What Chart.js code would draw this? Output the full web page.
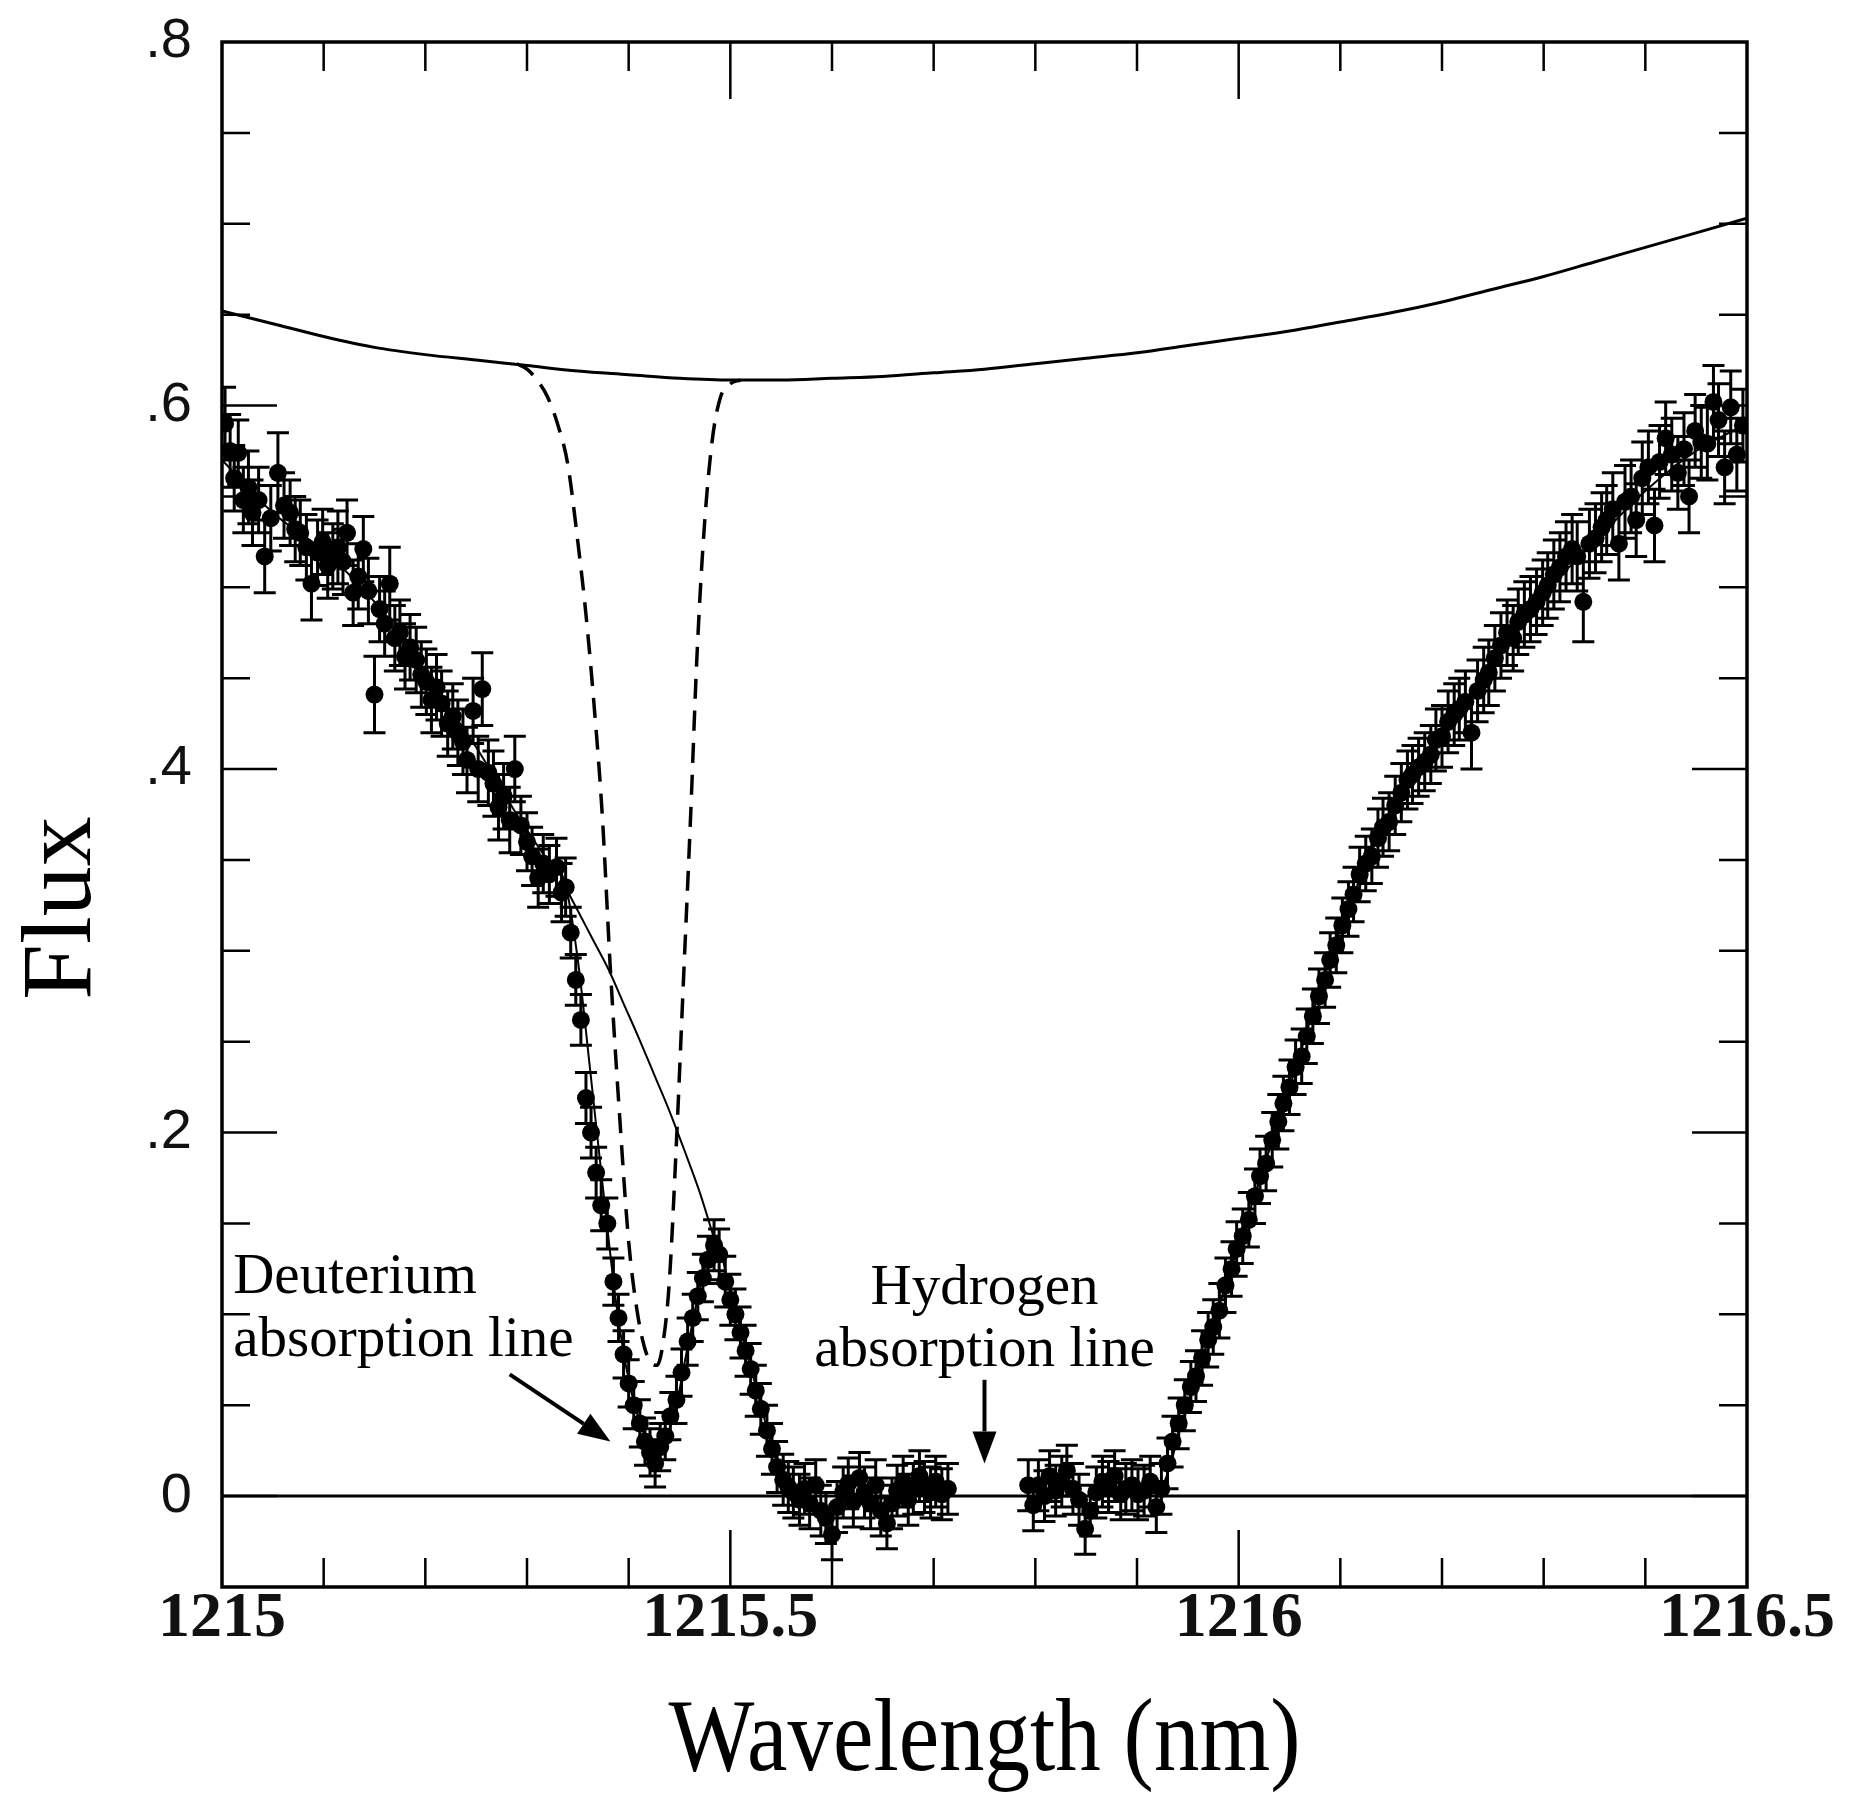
<!DOCTYPE html>
<html>
<head>
<meta charset="utf-8">
<title>Deuterium and hydrogen Lyman-alpha absorption</title>
<script src="https://cdn.jsdelivr.net/npm/chart.js@4.4.1/dist/chart.umd.min.js"></script>
<style>
	html, body { margin: 0; padding: 0; background: #fff; }
	canvas { display: block; }
</style>
</head>
<body>
<canvas id="fluxChart" width="1850" height="1797"></canvas>
<script>
// observed spectrum: wavelength (nm), flux and 1-sigma error
const wavelength = [
	1215.003, 1215.008, 1215.012, 1215.016, 1215.021, 1215.026, 1215.030, 1215.036, 1215.042, 1215.048,
	1215.055, 1215.061, 1215.067, 1215.072, 1215.077, 1215.083, 1215.088, 1215.094, 1215.099, 1215.104,
	1215.109, 1215.114, 1215.119, 1215.123, 1215.129, 1215.134, 1215.139, 1215.144, 1215.150, 1215.155,
	1215.160, 1215.165, 1215.170, 1215.175, 1215.180, 1215.185, 1215.191, 1215.196, 1215.201, 1215.206,
	1215.211, 1215.216, 1215.222, 1215.227, 1215.232, 1215.237, 1215.241, 1215.247, 1215.252, 1215.256,
	1215.262, 1215.267, 1215.272, 1215.277, 1215.283, 1215.288, 1215.294, 1215.300, 1215.305, 1215.311,
	1215.316, 1215.322, 1215.329, 1215.334, 1215.338, 1215.343, 1215.348, 1215.353, 1215.358, 1215.363,
	1215.368, 1215.373, 1215.379, 1215.385, 1215.390, 1215.395, 1215.400, 1215.405, 1215.411, 1215.416,
	1215.421, 1215.426, 1215.431, 1215.436, 1215.441, 1215.447, 1215.452, 1215.458, 1215.463, 1215.468,
	1215.473, 1215.478, 1215.484, 1215.489, 1215.495, 1215.500, 1215.505, 1215.510, 1215.515, 1215.520,
	1215.525, 1215.530, 1215.536, 1215.541, 1215.546, 1215.552, 1215.557, 1215.562, 1215.568, 1215.573,
	1215.578, 1215.584, 1215.589, 1215.594, 1215.600, 1215.605, 1215.611, 1215.616, 1215.621, 1215.627,
	1215.632, 1215.638, 1215.643, 1215.648, 1215.654, 1215.659, 1215.664, 1215.670, 1215.675, 1215.680,
	1215.686, 1215.691, 1215.697, 1215.702, 1215.708, 1215.714,
	1215.793, 1215.798, 1215.803, 1215.809, 1215.814, 1215.820, 1215.826, 1215.831, 1215.837, 1215.843,
	1215.849, 1215.854, 1215.860, 1215.866, 1215.872, 1215.878, 1215.884, 1215.889, 1215.895, 1215.901,
	1215.907, 1215.913, 1215.919, 1215.924, 1215.930, 1215.935, 1215.941, 1215.947, 1215.953, 1215.958,
	1215.964, 1215.970, 1215.975, 1215.981, 1215.987, 1215.993, 1215.998, 1216.004, 1216.010, 1216.016,
	1216.021, 1216.027, 1216.033, 1216.039, 1216.044, 1216.050, 1216.056, 1216.062, 1216.067, 1216.073,
	1216.079, 1216.085, 1216.090, 1216.096, 1216.102, 1216.108, 1216.113, 1216.119, 1216.125, 1216.131,
	1216.137, 1216.142, 1216.148, 1216.154, 1216.160, 1216.166, 1216.171, 1216.177, 1216.183, 1216.189,
	1216.194, 1216.200, 1216.206, 1216.212, 1216.217, 1216.223, 1216.229, 1216.235, 1216.241, 1216.246,
	1216.252, 1216.258, 1216.264, 1216.270, 1216.275, 1216.281, 1216.287, 1216.293, 1216.299, 1216.304,
	1216.310, 1216.316, 1216.322, 1216.328, 1216.333, 1216.339, 1216.345, 1216.351, 1216.357, 1216.362,
	1216.368, 1216.374, 1216.380, 1216.386, 1216.391, 1216.397, 1216.403, 1216.409, 1216.414, 1216.420,
	1216.426, 1216.432, 1216.438, 1216.443, 1216.449, 1216.455, 1216.461, 1216.467, 1216.472, 1216.478,
	1216.484, 1216.490, 1216.496
];
const flux = [
	0.590, 0.575, 0.560, 0.574, 0.548, 0.555, 0.541, 0.548, 0.517, 0.538,
	0.563, 0.545, 0.541, 0.532, 0.530, 0.522, 0.502, 0.519, 0.525, 0.512,
	0.517, 0.522, 0.514, 0.530, 0.497, 0.506, 0.521, 0.498, 0.441, 0.488,
	0.480, 0.502, 0.472, 0.475, 0.462, 0.467, 0.460, 0.452, 0.448, 0.438,
	0.445, 0.436, 0.425, 0.429, 0.420, 0.415, 0.405, 0.432, 0.400, 0.444,
	0.398, 0.392, 0.379, 0.385, 0.372, 0.400, 0.369, 0.360, 0.352, 0.340,
	0.348, 0.342, 0.346, 0.332, 0.335, 0.310, 0.284, 0.262, 0.219, 0.200,
	0.178, 0.160, 0.150, 0.118, 0.098, 0.078, 0.062, 0.050, 0.040, 0.030,
	0.024, 0.018, 0.027, 0.033, 0.044, 0.053, 0.068, 0.085, 0.098, 0.110,
	0.120, 0.130, 0.138, 0.133, 0.118, 0.108, 0.100, 0.090, 0.080, 0.070,
	0.058, 0.048, 0.036, 0.026, 0.016, 0.009, 0.005, 0.002, -0.002, 0.004,
	-0.004, 0.006, -0.008, -0.012, -0.021, -0.006, 0.002, 0.007, -0.003, 0.010,
	0.002, -0.004, 0.006, -0.008, -0.015, -0.004, 0.003, 0.008, -0.002, 0.004,
	0.011, 0.005, 0.002, 0.008, 0.001, 0.004,
	0.006, -0.005, 0.006, 0.000, 0.011, 0.003, 0.008, 0.014, 0.004, -0.002,
	-0.018, -0.008, 0.002, 0.008, 0.005, 0.011, 0.001, 0.004, 0.006, 0.001,
	0.003, 0.008, -0.006, 0.004, 0.018, 0.030, 0.040, 0.050, 0.060, 0.066,
	0.076, 0.086, 0.093, 0.102, 0.116, 0.125, 0.136, 0.143, 0.152, 0.165,
	0.176, 0.183, 0.196, 0.206, 0.216, 0.225, 0.236, 0.242, 0.253, 0.264,
	0.275, 0.284, 0.295, 0.303, 0.314, 0.323, 0.331, 0.342, 0.348, 0.352,
	0.362, 0.368, 0.371, 0.380, 0.387, 0.394, 0.397, 0.401, 0.404, 0.408,
	0.416, 0.418, 0.426, 0.430, 0.433, 0.437, 0.420, 0.443, 0.449, 0.453,
	0.461, 0.468, 0.475, 0.472, 0.481, 0.485, 0.488, 0.492, 0.497, 0.501,
	0.507, 0.511, 0.517, 0.521, 0.517, 0.492, 0.524, 0.527, 0.533, 0.537,
	0.543, 0.524, 0.547, 0.550, 0.537, 0.560, 0.566, 0.534, 0.569, 0.582,
	0.573, 0.563, 0.576, 0.550, 0.586, 0.580, 0.579, 0.602, 0.592, 0.566,
	0.599, 0.573, 0.589
];
const fluxErr = [
	0.020, 0.020, 0.018, 0.018, 0.018, 0.020, 0.018, 0.018, 0.020, 0.018,
	0.022, 0.018, 0.018, 0.018, 0.018, 0.018, 0.020, 0.018, 0.018, 0.018,
	0.018, 0.020, 0.018, 0.018, 0.018, 0.018, 0.018, 0.018, 0.021, 0.018,
	0.018, 0.020, 0.018, 0.018, 0.018, 0.018, 0.018, 0.018, 0.018, 0.018,
	0.018, 0.018, 0.018, 0.018, 0.018, 0.018, 0.018, 0.018, 0.018, 0.020,
	0.018, 0.018, 0.018, 0.018, 0.018, 0.018, 0.016, 0.016, 0.016, 0.016,
	0.016, 0.016, 0.016, 0.016, 0.016, 0.014, 0.014, 0.014, 0.014, 0.014,
	0.014, 0.014, 0.014, 0.013, 0.013, 0.013, 0.013, 0.013, 0.013, 0.013,
	0.013, 0.013, 0.013, 0.013, 0.013, 0.013, 0.013, 0.013, 0.013, 0.013,
	0.013, 0.013, 0.014, 0.014, 0.014, 0.014, 0.014, 0.014, 0.014, 0.014,
	0.014, 0.014, 0.014, 0.014, 0.014, 0.014, 0.014, 0.014, 0.014, 0.014,
	0.014, 0.014, 0.014, 0.014, 0.014, 0.014, 0.014, 0.014, 0.014, 0.014,
	0.014, 0.014, 0.014, 0.014, 0.014, 0.014, 0.014, 0.014, 0.014, 0.014,
	0.014, 0.014, 0.014, 0.014, 0.014, 0.014,
	0.014, 0.014, 0.014, 0.014, 0.014, 0.014, 0.014, 0.014, 0.014, 0.014,
	0.014, 0.014, 0.014, 0.014, 0.014, 0.014, 0.014, 0.014, 0.014, 0.014,
	0.014, 0.014, 0.014, 0.014, 0.014, 0.014, 0.014, 0.014, 0.014, 0.014,
	0.015, 0.015, 0.015, 0.015, 0.015, 0.015, 0.015, 0.015, 0.015, 0.015,
	0.015, 0.015, 0.015, 0.015, 0.015, 0.015, 0.015, 0.015, 0.015, 0.015,
	0.015, 0.015, 0.015, 0.015, 0.015, 0.015, 0.015, 0.015, 0.015, 0.015,
	0.016, 0.016, 0.016, 0.016, 0.016, 0.016, 0.016, 0.016, 0.016, 0.016,
	0.017, 0.017, 0.017, 0.017, 0.017, 0.017, 0.020, 0.017, 0.018, 0.018,
	0.018, 0.018, 0.018, 0.018, 0.018, 0.018, 0.018, 0.018, 0.018, 0.018,
	0.019, 0.019, 0.019, 0.019, 0.019, 0.022, 0.019, 0.019, 0.019, 0.019,
	0.020, 0.020, 0.020, 0.020, 0.020, 0.020, 0.020, 0.020, 0.020, 0.020,
	0.020, 0.020, 0.020, 0.020, 0.020, 0.020, 0.020, 0.020, 0.020, 0.020,
	0.020, 0.020, 0.020
];

// model continuum (upper solid curve)
const contWave = [
	1215.00, 1215.05, 1215.10, 1215.15, 1215.20, 1215.25, 1215.30, 1215.35, 1215.40, 1215.45, 1215.50,
	1215.55, 1215.60, 1215.65, 1215.70, 1215.75, 1215.80, 1215.85, 1215.90, 1215.95, 1216.00,
	1216.05, 1216.10, 1216.15, 1216.20, 1216.25, 1216.30, 1216.35, 1216.40, 1216.45, 1216.50
];
const contFlux = [
	0.652, 0.645, 0.638, 0.632, 0.628, 0.625, 0.622, 0.619, 0.617, 0.615, 0.614,
	0.614, 0.615, 0.616, 0.618, 0.620, 0.623, 0.626, 0.629, 0.633, 0.637,
	0.641, 0.646, 0.651, 0.657, 0.664, 0.671, 0.679, 0.687, 0.695, 0.703
];

// deuterium line alone on the continuum (dashed)
const dWave = [
	1215.290, 1215.300, 1215.310, 1215.320, 1215.330, 1215.340, 1215.350, 1215.358, 1215.366, 1215.374,
	1215.382, 1215.391, 1215.400, 1215.408, 1215.415, 1215.421, 1215.428, 1215.434, 1215.440, 1215.447,
	1215.454, 1215.461, 1215.467, 1215.474, 1215.482, 1215.490, 1215.500, 1215.510
];
const dFlux = [
	0.623, 0.620, 0.614, 0.605, 0.590, 0.568, 0.525, 0.485, 0.435, 0.375,
	0.290, 0.210, 0.140, 0.103, 0.083, 0.074, 0.072, 0.085, 0.118, 0.195,
	0.285, 0.375, 0.460, 0.530, 0.580, 0.604, 0.612, 0.614
];

// hydrogen-only profile where it leaves the full fit
const noDWave = [1215.335, 1215.350, 1215.365, 1215.380, 1215.395, 1215.410, 1215.425, 1215.440, 1215.455, 1215.470, 1215.485];
const noDFlux = [0.338, 0.322, 0.306, 0.290, 0.271, 0.252, 0.232, 0.212, 0.190, 0.167, 0.140];

// full fit (H + D) through the data
const fitWave = [
	1215.000, 1215.050, 1215.100, 1215.150, 1215.200, 1215.250, 1215.290, 1215.320, 1215.338, 1215.350,
	1215.362, 1215.375, 1215.388, 1215.400, 1215.412, 1215.424, 1215.435, 1215.446, 1215.458, 1215.470,
	1215.482, 1215.490, 1215.500, 1215.515, 1215.530, 1215.545, 1215.560, 1215.580, 1215.600, 1215.750,
	1215.900, 1215.925, 1215.945, 1215.970, 1216.000, 1216.050, 1216.100, 1216.150, 1216.200, 1216.250,
	1216.300, 1216.350, 1216.400, 1216.450, 1216.500
];
const fitFlux = [
	0.570, 0.541, 0.520, 0.492, 0.452, 0.412, 0.375, 0.350, 0.336, 0.295,
	0.235, 0.168, 0.105, 0.064, 0.039, 0.025, 0.030, 0.048, 0.082, 0.114,
	0.136, 0.134, 0.112, 0.082, 0.050, 0.020, 0.005, 0.000, 0.000, 0.000,
	0.000, 0.006, 0.042, 0.086, 0.138, 0.225, 0.312, 0.377, 0.420, 0.458,
	0.496, 0.525, 0.553, 0.575, 0.590
];

const xTickLabels = [1215, 1215.5, 1216, 1216.5];
const yTickLabels = [0, 0.2, 0.4, 0.6, 0.8];

const pts = (xs, ys) => xs.map((x, i) => ({ x: x, y: ys[i] }));

const serif = '"Liberation Serif", "Times New Roman", serif';

// error bars on the observed points
const errorBars = {
	id: "errorBars",
	afterDatasetsDraw(chart) {
		const { ctx, chartArea: a, scales: { x, y } } = chart;
		ctx.save();
		ctx.beginPath();
		ctx.rect(a.left, a.top, a.right - a.left, a.bottom - a.top);
		ctx.clip();
		ctx.strokeStyle = "#000";
		ctx.lineWidth = 3;
		ctx.beginPath();
		wavelength.forEach((w, i) => {
			const px = x.getPixelForValue(w);
			const hi = y.getPixelForValue(flux[i] + fluxErr[i]);
			const lo = y.getPixelForValue(flux[i] - fluxErr[i]);
			ctx.moveTo(px, hi); ctx.lineTo(px, lo);
			ctx.moveTo(px - 11, hi); ctx.lineTo(px + 11, hi);
			ctx.moveTo(px - 11, lo); ctx.lineTo(px + 11, lo);
		});
		ctx.stroke();
		ctx.restore();
	},
};

function arrow(ctx, x0, y0, x1, y1) {
	const ang = Math.atan2(y1 - y0, x1 - x0);
	const head = 32, half = 12;
	const bx = x1 - head * Math.cos(ang), by = y1 - head * Math.sin(ang);
	ctx.beginPath();
	ctx.moveTo(x0, y0);
	ctx.lineTo(bx, by);
	ctx.stroke();
	ctx.beginPath();
	ctx.moveTo(x1, y1);
	ctx.lineTo(bx + half * Math.sin(ang), by - half * Math.cos(ang));
	ctx.lineTo(bx - half * Math.sin(ang), by + half * Math.cos(ang));
	ctx.closePath();
	ctx.fill();
}

// frame, inward ticks, axis titles and the two line labels
const frame = {
	id: "frame",
	afterDraw(chart) {
		const { ctx, chartArea: a, scales: { x, y } } = chart;
		ctx.save();
		ctx.strokeStyle = "#000";
		ctx.fillStyle = "#000";

		ctx.lineWidth = 2.5;
		ctx.beginPath();
		for (let i = 1; i < 15; i++) {
			const px = x.getPixelForValue(1215 + i * 0.1);
			const len = i % 5 === 0 ? 57 : 29;
			ctx.moveTo(px, a.bottom); ctx.lineTo(px, a.bottom - len);
			ctx.moveTo(px, a.top); ctx.lineTo(px, a.top + len);
		}
		for (let i = 0; i < 16; i++) {
			const py = y.getPixelForValue(i * 0.05);
			const len = i % 4 === 0 ? 55 : 28;
			ctx.moveTo(a.left, py); ctx.lineTo(a.left + len, py);
			ctx.moveTo(a.right, py); ctx.lineTo(a.right - len, py);
		}
		ctx.stroke();

		ctx.lineWidth = 3.5;
		ctx.strokeRect(a.left, a.top, a.right - a.left, a.bottom - a.top);

		// axis titles
		ctx.textAlign = "center";
		ctx.textBaseline = "alphabetic";
		ctx.font = "104px " + serif;
		ctx.save();
		ctx.translate((a.left + a.right) / 2, 1770);
		ctx.scale(0.875, 1);
		ctx.fillText("Wavelength (nm)", 0, 0);
		ctx.restore();
		ctx.font = "100px " + serif;
		ctx.save();
		ctx.translate(90, 908);
		ctx.rotate(-Math.PI / 2);
		ctx.fillText("Flux", 0, 0);
		ctx.restore();

		// line labels
		ctx.font = "57px " + serif;
		ctx.textAlign = "left";
		ctx.fillText("Deuterium", x.getPixelForValue(1215.011), y.getPixelForValue(0.112));
		ctx.fillText("absorption line", x.getPixelForValue(1215.011), y.getPixelForValue(0.077));
		ctx.textAlign = "center";
		ctx.fillText("Hydrogen", x.getPixelForValue(1215.75), y.getPixelForValue(0.1056));
		ctx.fillText("absorption line", x.getPixelForValue(1215.75), y.getPixelForValue(0.0715));

		ctx.lineWidth = 4;
		arrow(ctx, x.getPixelForValue(1215.283), y.getPixelForValue(0.067),
			x.getPixelForValue(1215.382), y.getPixelForValue(0.030));
		arrow(ctx, x.getPixelForValue(1215.75), y.getPixelForValue(0.064),
			x.getPixelForValue(1215.75), y.getPixelForValue(0.018));
		ctx.restore();
	},
};

const ctx = document.getElementById("fluxChart");
const lineStyle = { showLine: true, pointRadius: 0, borderColor: "#000", fill: false, cubicInterpolationMode: "monotone" };

new Chart(ctx, {
	type: "scatter",
	data: {
		datasets: [
			{
				label: "Observed flux",
				data: pts(wavelength, flux),
				showLine: false,
				pointRadius: 9,
				pointBackgroundColor: "#000",
				pointBorderWidth: 0,
			},
			{ ...lineStyle, label: "Fit", data: pts(fitWave, fitFlux), borderWidth: 2 },
			{ ...lineStyle, label: "Hydrogen only", data: pts(noDWave, noDFlux), borderWidth: 2 },
			{ ...lineStyle, label: "Deuterium line", data: pts(dWave, dFlux), borderWidth: 3.5, borderDash: [20, 12] },
			{ ...lineStyle, label: "Continuum", data: pts(contWave, contFlux), borderWidth: 3 },
			{ ...lineStyle, label: "Zero", data: pts([1215, 1216.5], [0, 0]), borderWidth: 3 },
		],
	},
	options: {
		responsive: false,
		animation: false,
		devicePixelRatio: 1,
		events: [],
		layout: { padding: { top: 42, right: 103, bottom: 0, left: 0 } },
		plugins: { legend: { display: false }, tooltip: { enabled: false } },
		scales: {
			x: {
				type: "linear",
				min: 1215,
				max: 1216.5,
				grid: { display: false, drawTicks: false },
				border: { display: false },
				afterBuildTicks: (s) => { s.ticks = xTickLabels.map((v) => ({ value: v })); },
				afterFit: (s) => { s.height = 210; s.paddingLeft = 0; s.paddingRight = 0; },
				ticks: {
					autoSkip: false,
					maxRotation: 0,
					padding: -6,
					color: "#111",
					font: { family: serif, size: 64, weight: "bold" },
					callback: (v) => String(v),
				},
			},
			y: {
				type: "linear",
				min: -0.05,
				max: 0.8,
				grid: { display: false, drawTicks: false },
				border: { display: false },
				afterBuildTicks: (s) => { s.ticks = yTickLabels.map((v) => ({ value: v })); },
				afterFit: (s) => { s.width = 222; s.paddingTop = 0; s.paddingBottom = 0; },
				ticks: {
					padding: 30,
					color: "#111",
					font: { family: '"Liberation Sans", Arial, sans-serif', size: 56 },
					callback: (v) => (v === 0 ? "0" : String(v).replace(/^0\./, ".")),
				},
			},
		},
	},
	plugins: [errorBars, frame],
});
</script>
</body>
</html>
